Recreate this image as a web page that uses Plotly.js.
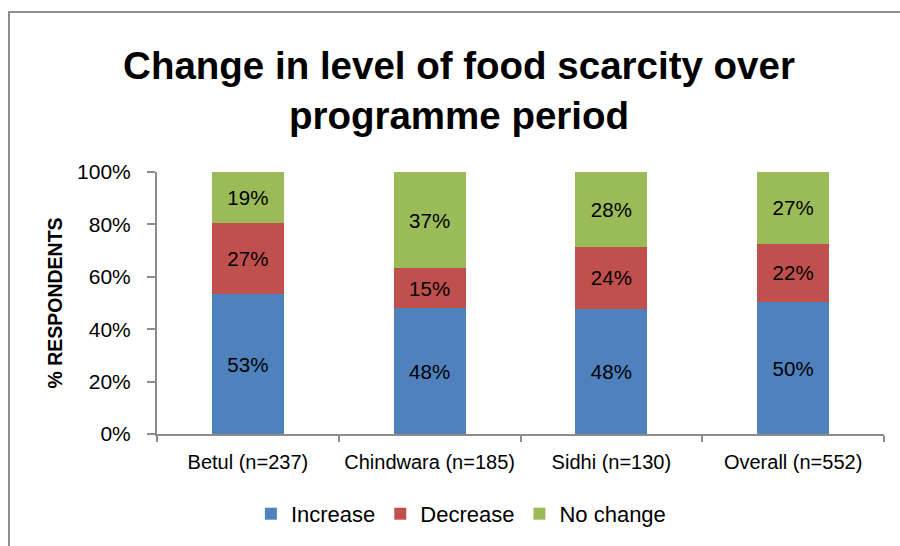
<!DOCTYPE html>
<html>
<head>
<meta charset="utf-8">
<script src="https://cdn.plot.ly/plotly-3.0.1.min.js"></script>
<style>
  html, body { margin: 0; padding: 0; background: #fff; }
  #wrap { position: relative; width: 900px; height: 546px; overflow: hidden; }
  #chart { position: absolute; left: 0; top: 0; width: 900px; height: 546px; }
  #frame { position: absolute; left: 8px; top: 11px; width: 1000px; height: 1000px;
           border-left: 2px solid #8f8f8f; border-top: 2px solid #8f8f8f; pointer-events: none; }
</style>
</head>
<body>
<div id="wrap">
  <div id="chart"></div>
  <div id="frame"></div>
</div>
<script>
const categories = ["Betul (n=237)", "Chindwara (n=185)", "Sidhi (n=130)", "Overall (n=552)"];
const increase = [53.3, 48.0, 47.8, 50.3];
const decrease = [27.2, 15.2, 23.7, 22.4];
const noChange = [19.4, 36.8, 28.4, 27.3];
const yTickVals = [0, 20, 40, 60, 80, 100];
const yTickText = ["0%", "20%", "40%", "60%", "80%", "100%"];

const FONT = "Liberation Sans, Arial, sans-serif";
const AXIS = "#8c8c8c";

function series(name, vals, color) {
  return {
    type: "bar",
    name: name,
    x: categories,
    y: vals,
    marker: { color: color, line: { width: 0 } },
    text: vals.map(v => Math.round(v) + "%"),
    texttemplate: "%{text}",
    textposition: "inside",
    insidetextanchor: "middle",
    textangle: 0,
    constraintext: "none",
    textfont: { family: FONT, size: 20.5, color: "#000" },
    hoverinfo: "skip"
  };
}

const data = [
  series("Increase", increase, "#4F81BD"),
  series("Decrease", decrease, "#C0504D"),
  series("No change", noChange, "#9BBB59")
];

const layout = {
  width: 900,
  height: 546,
  margin: { l: 157, r: 16, t: 172, b: 111 },
  paper_bgcolor: "#fff",
  plot_bgcolor: "#fff",
  barmode: "stack",
  bargap: 0.604,
  font: { family: FONT, color: "#000" },
  title: {
    text: "<b>Change in level of food scarcity over<br>programme period</b>",
    font: { family: FONT, size: 38.5, color: "#000" },
    x: 0.51, xanchor: "center", xref: "container",
    y: 0.856, yanchor: "middle", yref: "container"
  },
  xaxis: {
    type: "category",
    showline: true, linecolor: AXIS, linewidth: 2,
    ticks: "outside", tickson: "boundaries", ticklen: 6, tickwidth: 2, tickcolor: AXIS,
    ticklabelstandoff: 9,
    tickfont: { family: FONT, size: 20, color: "#000" },
    showgrid: false, zeroline: false, fixedrange: true
  },
  yaxis: {
    range: [0, 100],
    tickvals: yTickVals, ticktext: yTickText,
    showline: true, linecolor: AXIS, linewidth: 2,
    ticks: "outside", ticklen: 8, tickwidth: 2, tickcolor: AXIS,
    ticklabelstandoff: 12,
    tickfont: { family: FONT, size: 21, color: "#000" },
    showgrid: false, zeroline: false, fixedrange: true,
    title: { text: "<b>% RESPONDENTS</b>", font: { family: FONT, size: 19.5, color: "#000" }, standoff: 9 }
  },
  showlegend: true,
  legend: {
    orientation: "h",
    x: 0.418, xanchor: "center",
    y: -0.300, yanchor: "middle",
    font: { family: FONT, size: 22, color: "#000" },
    traceorder: "normal"
  }
};

Plotly.newPlot("chart", data, layout, { displayModeBar: false, staticPlot: true });
</script>
</body>
</html>
